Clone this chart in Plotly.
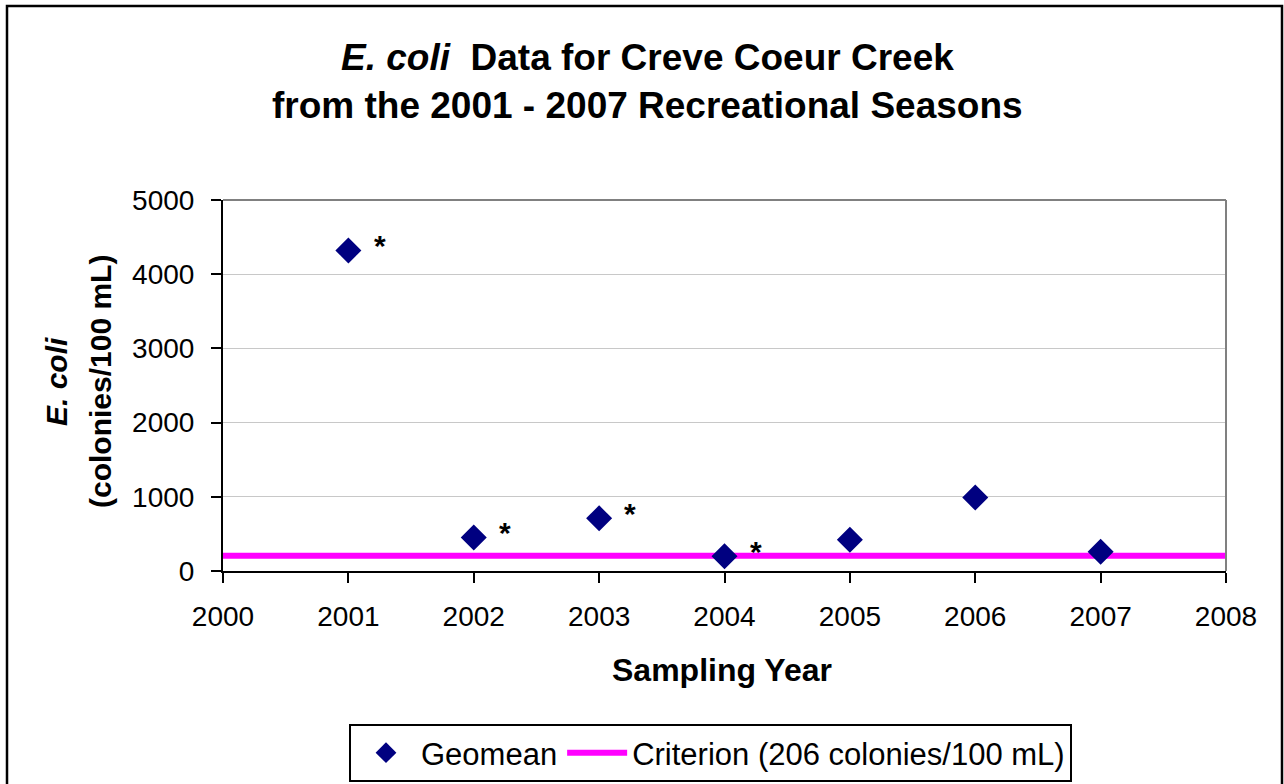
import plotly.graph_objects as go

years = [2001, 2002, 2003, 2004, 2005, 2006, 2007]
geomean = [4320, 450, 710, 200, 420, 990, 260]
flagged = [True, True, True, True, False, False, False]
criterion_value = 206
criterion_x = [2000, 2008]
x_ticks = [2000, 2001, 2002, 2003, 2004, 2005, 2006, 2007, 2008]
y_ticks = [0, 1000, 2000, 3000, 4000, 5000]

FONT = "Liberation Sans, Arial, sans-serif"

fig = go.Figure()
fig.add_trace(go.Scatter(
    x=criterion_x, y=[criterion_value] * len(criterion_x), mode="lines",
    line=dict(color="#FF00FF", width=6),
    name="Criterion (206 colonies/100 mL)", legendrank=2,
))
fig.add_trace(go.Scatter(
    x=years, y=geomean, mode="markers",
    marker=dict(symbol="diamond", color="#000080", size=20,
                line=dict(width=0)),
    name="Geomean", legendrank=1,
))

W, H = 1284, 784
L, R, T, B = 223, 58, 200, 213
pw, ph = W - L - R, H - T - B


def px(xp):
    return (xp - L) / pw


def py(yp):
    return (H - B - yp) / ph


annotations = []
for yr, v, f in zip(years, geomean, flagged):
    if f:
        annotations.append(dict(
            x=yr + 0.25, y=v, xref="x", yref="y", text="<b>*</b>",
            showarrow=False, font=dict(size=30, color="black", family=FONT),
            yshift=5,
        ))

annotations += [
    dict(x=px(647), y=py(57), xref="paper", yref="paper",
         text="<b><i>E. coli</i>  Data for Creve Coeur Creek</b>",
         showarrow=False, font=dict(size=37, color="black", family=FONT),
         xanchor="center", yanchor="middle"),
    dict(x=px(647), y=py(105), xref="paper", yref="paper",
         text="<b>from the 2001 - 2007 Recreational Seasons</b>",
         showarrow=False, font=dict(size=37, color="black", family=FONT),
         xanchor="center", yanchor="middle"),
    dict(x=px(722), y=py(670), xref="paper", yref="paper",
         text="<b>Sampling Year</b>",
         showarrow=False, font=dict(size=32, color="black", family=FONT),
         xanchor="center", yanchor="middle"),
    dict(x=px(56), y=py(382), xref="paper", yref="paper",
         text="<b><i>E. coli</i></b>", textangle=-90,
         showarrow=False, font=dict(size=30, color="black", family=FONT),
         xanchor="center", yanchor="middle"),
    dict(x=px(100), y=py(382), xref="paper", yref="paper",
         text="<b>(colonies/100 mL)</b>", textangle=-90,
         showarrow=False, font=dict(size=30, color="black", family=FONT),
         xanchor="center", yanchor="middle"),
]

shapes = [
    dict(type="rect", xref="paper", yref="paper",
         x0=px(7), x1=px(1282), y0=py(795), y1=py(6),
         line=dict(color="black", width=2.5), layer="below"),
    dict(type="line", xref="paper", yref="paper", x0=0, x1=1, y0=1, y1=1,
         line=dict(color="#808080", width=2)),
    dict(type="line", xref="paper", yref="paper", x0=1, x1=1, y0=0, y1=1,
         line=dict(color="#808080", width=2)),
]

fig.update_layout(
    width=W, height=H,
    margin=dict(l=L, r=R, t=T, b=B, autoexpand=False),
    paper_bgcolor="white", plot_bgcolor="white",
    font=dict(family=FONT, color="black", size=24),
    showlegend=True,
    legend=dict(orientation="h", xref="container", yref="container",
                x=349 / W, y=1 - 724 / H, xanchor="left", yanchor="top",
                bordercolor="black", borderwidth=2, bgcolor="white",
                font=dict(size=31, family=FONT), traceorder="normal",
                itemwidth=60),
    xaxis=dict(range=[2000, 2008], tickvals=x_ticks, ticktext=[str(t) for t in x_ticks],
               showgrid=False, zeroline=False, showline=True, linecolor="black",
               linewidth=2, ticks="outside", ticklen=10, tickwidth=2, tickcolor="black",
               tickfont=dict(size=28), ticklabelstandoff=9, fixedrange=True),
    yaxis=dict(range=[0, 5000], tickvals=y_ticks, showgrid=True, gridcolor="#C8C8C8",
               gridwidth=1, zeroline=False, showline=True, linecolor="black",
               linewidth=2, ticks="outside", ticklen=10, tickwidth=2, tickcolor="black",
               tickfont=dict(size=28), ticklabelstandoff=11, fixedrange=True),
    annotations=annotations,
    shapes=shapes,
)

fig.write_html(
    "out.html",
    config={"displayModeBar": False},
    post_script="document.body.style.margin='0px';document.body.style.overflow='hidden';",
)
